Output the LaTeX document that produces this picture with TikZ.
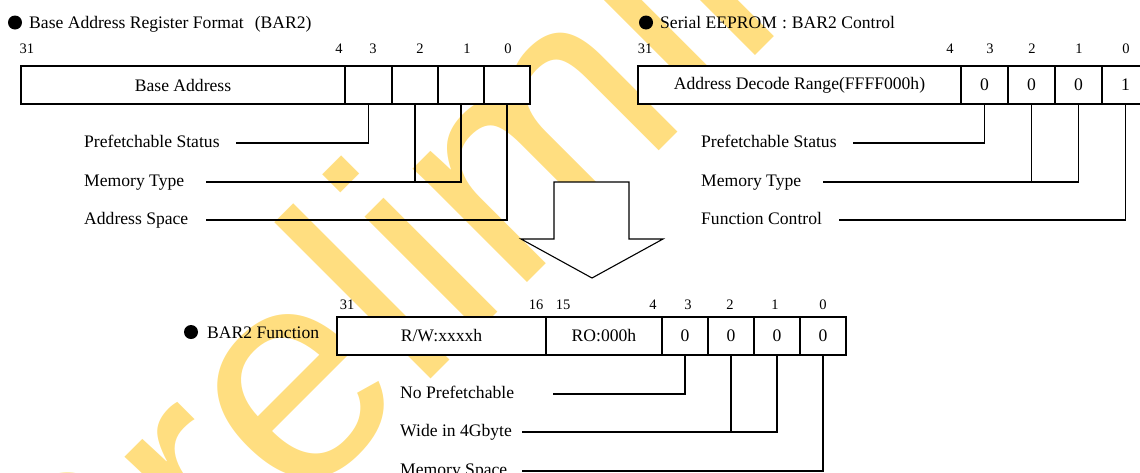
\documentclass[tikz,border=0pt]{standalone}
\usepackage{fontspec}
\setmainfont{Liberation Serif}
\newfontfamily\policefiligrane{Liberation Sans}
\definecolor{jaune}{RGB}{255,222,128}
\begin{document}
\begin{tikzpicture}[x=1pt,y=-1pt]
	% Styles
	\tikzstyle{case}=[draw,fill=white,line width=1.2pt,minimum height=38pt,inner sep=0pt,font=\fontsize{17.6}{20}\selectfont]
	\tikzstyle{bit}=[inner sep=0pt,font=\fontsize{14.5}{16}\selectfont]
	\tikzstyle{legende}=[anchor=base west,inner sep=0pt,font=\fontsize{17.6}{20}\selectfont]
	\tikzstyle{titre}=[legende]
	\tikzstyle{puce}=[circle,fill=black,inner sep=0pt,minimum size=14pt]
	\tikzstyle{fil}=[-,line width=1.1pt]
	\tikzstyle{fleche}=[line width=1.1pt,fill=white]
	\tikzstyle{filigrane}=[anchor=base west,inner sep=0pt,text=jaune,rotate=45,font=\policefiligrane\fontsize{305}{305}\selectfont]
	% Dimensions
	\def\LigneA{85}
	\def\LigneC{336}
	\def\BitsA{49}
	\def\BitsC{305}
	% Cadre
	\useasboundingbox (0,0) rectangle (1140,472);
	\clip (0,0) rectangle (1140,472);
	% Filigrane
	\node[filigrane] (prelim) at (81,729) {Preliminary};
	% Titres
	\node[puce] (pA) at (15,22.5) {};
	\node[titre] (tA) at (29,28.5) {Base Address Register Format\hspace{11pt}(BAR2)};
	\node[puce] (pB) at (646,22.5) {};
	\node[titre] (tB) at (660,28.5) {Serial EEPROM\hspace{5pt}:\hspace{5pt}BAR2 Control};
	\node[puce] (pC) at (191,332) {};
	\node[titre] (tC) at (207,338) {BAR2 Function};
	% Registre A : BAR2
	\node[case,minimum width=324pt] (A) at (183,\LigneA) {Base Address};
	\node[case,minimum width=47pt] (A3) at (368.5,\LigneA) {};
	\node[case,minimum width=46pt] (A2) at (415,\LigneA) {};
	\node[case,minimum width=46pt] (A1) at (461,\LigneA) {};
	\node[case,minimum width=46pt] (A0) at (507,\LigneA) {};
	\node[bit] (nA31) at (27,\BitsA) {31};
	\node[bit] (nA4) at (339,\BitsA) {4};
	\node[bit] (nA3) at (373,\BitsA) {3};
	\node[bit] (nA2) at (420,\BitsA) {2};
	\node[bit] (nA1) at (467,\BitsA) {1};
	\node[bit] (nA0) at (508,\BitsA) {0};
	\node[legende] (lA3) at (84,147) {Prefetchable Status};
	\node[legende] (lA2) at (84,186) {Memory Type};
	\node[legende] (lA0) at (84,224) {Address Space};
	% Registre B : EEPROM
	\node[case,minimum width=323pt] (B) at (799.5,\LigneA) {Address Decode Range(FFFF000h)};
	\node[case,minimum width=47pt] (B3) at (984.5,\LigneA) {0};
	\node[case,minimum width=47pt] (B2) at (1031.5,\LigneA) {0};
	\node[case,minimum width=47pt] (B1) at (1078.5,\LigneA) {0};
	\node[case,minimum width=47pt] (B0) at (1125.5,\LigneA) {1};
	\node[bit] (nB31) at (645,\BitsA) {31};
	\node[bit] (nB4) at (950,\BitsA) {4};
	\node[bit] (nB3) at (990,\BitsA) {3};
	\node[bit] (nB2) at (1032,\BitsA) {2};
	\node[bit] (nB1) at (1079,\BitsA) {1};
	\node[bit] (nB0) at (1126,\BitsA) {0};
	\node[legende] (lB3) at (701,147) {Prefetchable Status};
	\node[legende] (lB2) at (701,186) {Memory Type};
	\node[legende] (lB0) at (701,224) {Function Control};
	% Registre C : fonction
	\node[case,minimum width=209pt] (C) at (441.5,\LigneC) {R/W:xxxxh};
	\node[case,minimum width=116pt] (CRO) at (604,\LigneC) {RO:000h};
	\node[case,minimum width=46pt] (C3) at (685,\LigneC) {0};
	\node[case,minimum width=46pt] (C2) at (731,\LigneC) {0};
	\node[case,minimum width=46pt] (C1) at (777,\LigneC) {0};
	\node[case,minimum width=46pt] (C0) at (823,\LigneC) {0};
	\node[bit] (nC31) at (347,\BitsC) {31};
	\node[bit] (nC16) at (536,\BitsC) {16};
	\node[bit] (nC15) at (563,\BitsC) {15};
	\node[bit] (nC4) at (653,\BitsC) {4};
	\node[bit] (nC3) at (688,\BitsC) {3};
	\node[bit] (nC2) at (730,\BitsC) {2};
	\node[bit] (nC1) at (775,\BitsC) {1};
	\node[bit] (nC0) at (823,\BitsC) {0};
	\node[legende] (lC3) at (400,398) {No Prefetchable};
	\node[legende] (lC2) at (400,436) {Wide in 4Gbyte};
	\node[legende] (lC0) at (400,475) {Memory Space};
	% Extremites des liaisons
	\coordinate (dA3) at (236,143);
	\coordinate (dA2) at (206,182);
	\coordinate (dA0) at (206,220);
	\coordinate (dB3) at (853,143);
	\coordinate (dB2) at (823,182);
	\coordinate (dB0) at (839,220);
	\coordinate (dC3) at (553,394);
	\coordinate (dC2) at (522,432);
	\coordinate (dC0) at (522,471);
	% Liaisons
	\draw[fil] (dA3) -| (A3.south);
	\draw[fil] (dA2) -| (A1.south);
	\draw[fil] (A2.south) -- (A2.south |- dA2);
	\draw[fil] (dA0) -| (A0.south);
	\draw[fil] (dB3) -| (B3.south);
	\draw[fil] (dB2) -| (B1.south);
	\draw[fil] (B2.south) -- (B2.south |- dB2);
	\draw[fil] (dB0) -| (B0.south);
	\draw[fil] (dC3) -| (C3.south);
	\draw[fil] (dC2) -| (C1.south);
	\draw[fil] (C2.south) -- (C2.south |- dC2);
	\draw[fil] (dC0) -| (C0.south);
	% Fleche
	\draw[fleche] (554,182) -- (629,182) -- (629,239) -- (663,239) -- (592,278) -- (521,239) -- (554,239) -- cycle;
\end{tikzpicture}
\end{document}
